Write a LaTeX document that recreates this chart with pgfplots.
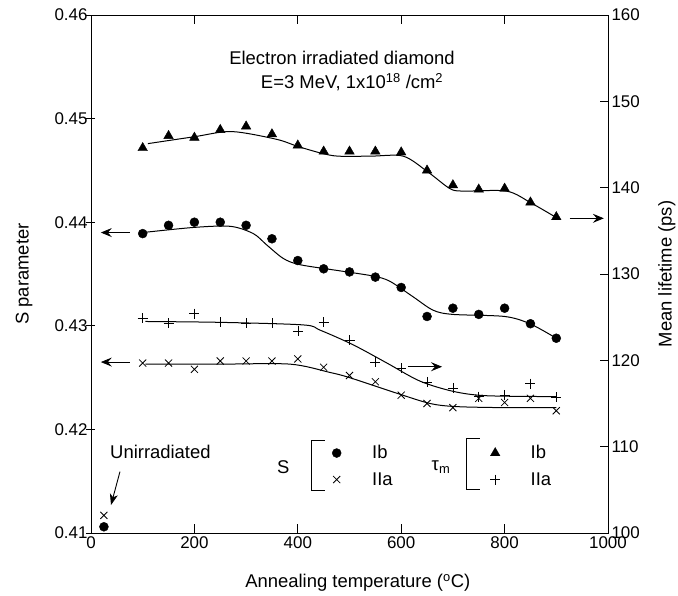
\documentclass[border=0pt]{standalone}
\usepackage{fontspec}
\setmainfont{Liberation Sans}
\usepackage{pgfplots}
\pgfplotsset{compat=1.18}
\usetikzlibrary{arrows.meta}
\newcommand{\lab}{\fontsize{18.5}{22}\selectfont}
\newcommand{\tkl}{\fontsize{17}{20}\selectfont}
\begin{document}
\begin{tikzpicture}
\path[use as bounding box] (-91bp,-63bp) rectangle (587bp,533bp);
\begin{axis}[
  at={(0,0)}, anchor=south west,
  width=517bp, height=518bp, scale only axis,
  xmin=0, xmax=1000, ymin=0.41, ymax=0.46,
  xtick={0,200,400,600,800,1000},
  /pgf/number format/1000 sep={},
  ytick={0.41,0.42,0.43,0.44,0.45,0.46},
  yticklabels={0.41,0.42,0.43,0.44,0.45,0.46},
  scaled y ticks=false,
  ytick pos=left,
  tick align=inside,
  major tick length=9bp,
  ytick style={xshift=-5bp},
  tick style={line width=0.8bp, black},
  axis line style={line width=0.8bp},
  /pgf/number format/assume math mode=true,
  tick label style={font=\tkl},
  xlabel={Annealing temperature (\textsuperscript{o}C)},
  ylabel={S parameter},
  label style={font=\lab},
  xlabel style={at={(axis description cs:0.516,-0.0965)}, anchor=center},
  ylabel style={at={(axis description cs:-0.1296,0.5)}, anchor=center},
  legend style={draw=none, fill=none, at={(axis description cs:0.4584,0.1291)}, anchor=west, font=\lab, column sep=25bp, row sep=8bp, inner sep=0bp},
  legend cell align=left,
  legend image code/.code={\path[draw=none, fill=none] (0bp,-5bp) rectangle (17bp,5bp); \draw[#1] plot coordinates {(8.5bp,0bp)};},
]
\addplot[only marks, mark=*, mark size=4.5bp] coordinates {
(100,0.4389) (150,0.4397) (200,0.4400) (250,0.4400) (300,0.4397) (350,0.4384)
(400,0.4363) (450,0.4355) (500,0.4352) (550,0.4347) (600,0.4337) (650,0.4309)
(700,0.4317) (750,0.4311) (800,0.4317) (850,0.4302) (900,0.4288)};
\addlegendentry{Ib}
\addplot[only marks, mark=x, mark size=5bp, mark options={line width=0.8bp}] coordinates {
(100,0.4264) (150,0.4264) (200,0.4258) (250,0.4266) (300,0.4266) (350,0.4266)
(400,0.4268) (450,0.4260) (500,0.4252) (550,0.4246) (600,0.4233) (650,0.4225)
(700,0.4221) (750,0.4230) (800,0.4226) (850,0.4230) (900,0.4218)};
\addlegendentry{IIa}
\addplot[forget plot, smooth, line width=1bp] coordinates {
(100,0.4390) (200,0.4395) (270,0.4396) (314,0.4389) (340,0.4378) (372,0.4365)
(404,0.4359) (482,0.4353) (546,0.4348) (578,0.4343) (623,0.4328) (662,0.4315)
(700,0.4311) (800,0.4309) (849,0.4302) (900,0.4288)};
\addplot[forget plot, smooth, line width=1bp] coordinates {
(105,0.4263) (250,0.4263) (385,0.4263) (462,0.4255) (500,0.4250) (591,0.4235)
(656,0.4225) (707,0.4222) (800,0.4221) (900,0.4221)};
\addplot[forget plot, only marks, mark=*, mark size=4.5bp] coordinates {(25,0.4106)};
\addplot[forget plot, only marks, mark=x, mark size=5bp, mark options={line width=0.8bp}] coordinates {(25,0.4117)};
% annotations
\node[font=\lab] at (axis cs:485.5,0.4559) {Electron irradiated diamond};
\node[font=\lab] at (axis cs:505,0.45353) {E=3 MeV, 1x10\textsuperscript{18} /cm\textsuperscript{2}};
\node[font=\lab, anchor=west, inner sep=0pt] at (axis cs:36.8,0.41782) {Unirradiated};
\draw[line width=0.9bp, -{Stealth[length=11bp, width=8bp, inset=3bp]}] (axis cs:56,0.41592) -- (axis cs:38.7,0.41270);
\draw[line width=0.8bp, -{Stealth[length=11bp, width=9bp, inset=4bp]}] (axis cs:75,0.4390) -- (axis cs:19,0.4390);
\draw[line width=0.8bp, -{Stealth[length=11bp, width=9bp, inset=4bp]}] (axis cs:75,0.4265) -- (axis cs:19,0.4265);
\node[font=\lab] at (axis cs:371.8,0.4164) {S};
\draw[line width=0.6bp] (axis cs:452.6,0.41898) -- (axis cs:426.9,0.41898) -- (axis cs:426.9,0.41415) -- (axis cs:452.6,0.41415);
\node[font=\lab] at (axis cs:677,0.41635) {τ\textsubscript{m}};
\draw[line width=0.6bp] (axis cs:752.4,0.41917) -- (axis cs:726.7,0.41917) -- (axis cs:726.7,0.41422) -- (axis cs:752.4,0.41422);
\end{axis}
\begin{axis}[
  at={(0,0)}, anchor=south west,
  width=517bp, height=518bp, scale only axis,
  xmin=0, xmax=1000, ymin=100, ymax=160,
  axis x line=none, axis y line*=right,
  ytick={100,110,120,130,140,150,160},
  tick align=inside,
  major tick length=8bp,
  tick style={line width=0.8bp, black},
  axis line style={line width=0.8bp},
  /pgf/number format/assume math mode=true,
  tick label style={font=\tkl},
  ylabel={Mean lifetime (ps)},
  label style={font=\lab},
  ylabel style={at={(axis description cs:1.114,0.5)}, anchor=center, rotate=0},
  legend style={draw=none, fill=none, at={(axis description cs:0.765,0.1291)}, anchor=west, font=\lab, column sep=25bp, row sep=8bp, inner sep=0bp},
  legend cell align=left,
  legend image code/.code={\path[draw=none, fill=none] (0bp,-5bp) rectangle (17bp,5bp); \draw[#1] plot coordinates {(8.5bp,0bp)};},
]
\addplot[only marks, mark=triangle*, mark size=5.5bp] coordinates {
(100,144.6) (150,146.0) (200,145.8) (250,146.7) (300,147.1) (350,146.2)
(400,144.9) (450,144.2) (500,144.2) (550,144.2) (600,144.1) (650,142.0)
(700,140.3) (750,139.8) (800,139.9) (850,138.3) (900,136.6)};
\addlegendentry{Ib}
\addplot[only marks, mark=+, mark size=5bp, mark options={line width=0.6bp}] coordinates {
(100,124.9) (150,124.3) (200,125.4) (250,124.4) (300,124.3) (350,124.3)
(400,123.4) (450,124.4) (500,122.3) (550,119.8) (600,119.1) (650,117.5)
(700,116.8) (750,115.8) (800,116.0) (850,117.3) (900,115.7)};
\addlegendentry{IIa}
\addplot[forget plot, smooth, line width=1bp] coordinates {
(110,145.1) (200,145.9) (272,146.5) (359,145.6) (404,144.7) (469,143.7)
(540,143.65) (604,143.65) (652,141.8) (694,139.9) (720,139.6) (804,139.6)
(852,138.2) (901,136.5)};
\addplot[forget plot, smooth, line width=1bp] coordinates {
(105,124.5) (250,124.4) (411,124.1) (443,123.5) (507,121.8) (572,119.7)
(636,117.6) (701,116.4) (765,115.9) (900,115.8)};
\draw[line width=0.8bp, -{Stealth[length=11bp, width=9bp, inset=4bp]}] (axis cs:926,136.45) -- (axis cs:992,136.45);
\draw[line width=0.8bp, -{Stealth[length=11bp, width=9bp, inset=4bp]}] (axis cs:613,119.26) -- (axis cs:679,119.26);
\end{axis}
\end{tikzpicture}
\end{document}
